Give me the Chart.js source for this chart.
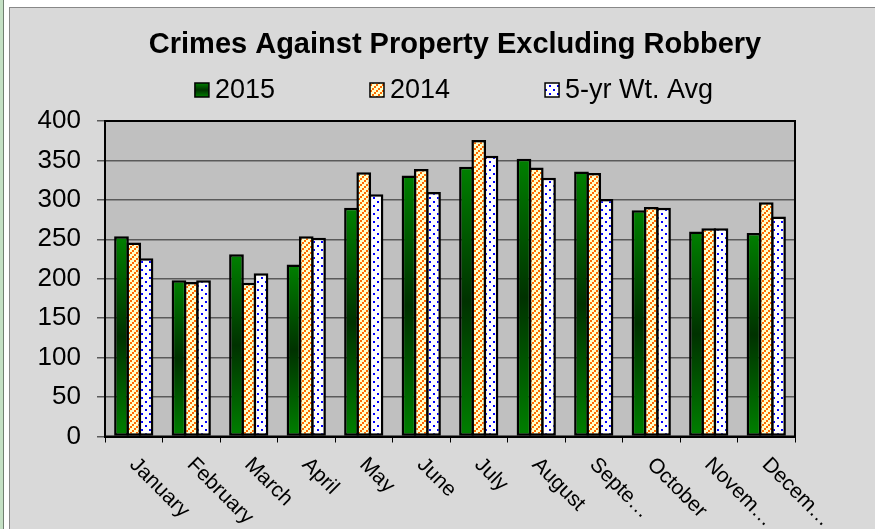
<!DOCTYPE html>
<html>
<head>
<meta charset="utf-8">
<script src="https://cdn.jsdelivr.net/npm/chart.js@4"></script>
<style>
  html, body { margin: 0; padding: 0; background: #fff; }
  #page { position: relative; width: 875px; height: 529px; overflow: hidden; background: #fff; }
  #strip { position: absolute; left: 0; top: 0; width: 3px; height: 529px; background: #c4e0c4; border-right: 1px solid #708070; }
  #panel { position: absolute; left: 9px; top: 7px; right: 0; bottom: 0; background: #d9d9d9; border-left: 1px solid #888; border-top: 1px solid #888; }
  #wrap { position: absolute; left: 0; top: 0; width: 875px; height: 529px; }
</style>
</head>
<body>
<div id="page">
  <div id="strip"></div>
  <div id="panel"></div>
  <div id="wrap"><canvas id="crimeChart"></canvas></div>
</div>
<script>
// chart data
const chartTitle = 'Crimes Against Property Excluding Robbery';
const months = ['January', 'February', 'March', 'April', 'May', 'June', 'July', 'August', 'Septe…', 'October', 'Novem…', 'Decem…'];
const seriesNames = ['2015', '2014', '5-yr Wt. Avg'];
const values2015 = [254, 198, 231, 218, 290, 331, 342, 352, 336, 287, 260, 258];
const values2014 = [246, 196, 195, 254, 335, 339, 376, 341, 334, 291, 264, 297];
const valuesAvg  = [226, 198, 207, 252, 307, 310, 356, 328, 301, 290, 264, 279];
const yMin = 0, yMax = 400, yStep = 50;

Chart.defaults.font.family = '"Liberation Sans", Arial, sans-serif';
Chart.defaults.color = '#000';

// fill patterns for the 2014 and average bars
function makePattern(size, bg, draw) {
    const c = document.createElement('canvas');
    c.width = c.height = size;
    const g = c.getContext('2d');
    g.fillStyle = bg;
    g.fillRect(0, 0, size, size);
    draw(g);
    return g.createPattern(c, 'repeat');
}

const orangePattern = makePattern(6, '#ffffc8', g => {
    g.fillStyle = '#ff6a00';
    g.fillRect(0, 4, 2, 2);
    g.fillRect(2, 2, 2, 2);
    g.fillRect(4, 0, 2, 2);
});

const bluePattern = makePattern(8, '#ffffff', g => {
    g.fillStyle = '#0000ff';
    g.fillRect(1, 1, 2, 2);
    g.fillRect(5, 5, 2, 2);
});

// green bars: bright at both ends, dark in the middle
function greenFill(c) {
    const chart = c.chart;
    if (!chart.chartArea || c.type !== 'data') return '#006000';
    const y = chart.scales.y;
    const top = y.getPixelForValue(c.raw);
    const bottom = y.getPixelForValue(0);
    const grad = chart.ctx.createLinearGradient(0, top, 0, bottom);
    grad.addColorStop(0, '#008000');
    grad.addColorStop(0.5, '#003200');
    grad.addColorStop(1, '#008000');
    return grad;
}

// plot background, frame, title, legend and slanted month labels
const excelLook = {
    id: 'excelLook',
    beforeDraw(chart) {
        const { ctx, chartArea: a } = chart;
        ctx.save();
        ctx.fillStyle = '#c0c0c0';
        ctx.fillRect(a.left, a.top, a.right - a.left, a.bottom - a.top);
        ctx.restore();
    },
    afterDatasetsDraw(chart) {
        const { ctx, chartArea: a } = chart;
        ctx.save();
        ctx.strokeStyle = '#000';
        ctx.lineWidth = 2;
        ctx.strokeRect(a.left, a.top, a.right - a.left, a.bottom - a.top);
        ctx.restore();
    },
    afterDraw(chart) {
        const { ctx, chartArea: a } = chart;
        const font = Chart.defaults.font.family;
        ctx.save();

        // title
        ctx.fillStyle = '#000';
        ctx.font = 'bold 29px ' + font;
        ctx.textAlign = 'center';
        ctx.textBaseline = 'alphabetic';
        ctx.fillText(chartTitle, 455, 52.5);

        // legend
        ctx.font = '27px ' + font;
        ctx.textAlign = 'left';
        const box = 14, gapText = 20, gapItem = 81;
        const widths = seriesNames.map(n => ctx.measureText(n).width);
        const total = widths.reduce((s, w) => s + box + gapText + w, 0) + gapItem * (seriesNames.length - 1);
        let x = 461 - total / 2;
        const fills = [null, orangePattern, bluePattern];
        seriesNames.forEach((name, i) => {
            if (i === 0) {
                const g = ctx.createLinearGradient(0, 83, 0, 97);
                g.addColorStop(0, '#008000');
                g.addColorStop(0.5, '#003200');
                g.addColorStop(1, '#008000');
                ctx.fillStyle = g;
            } else {
                ctx.fillStyle = fills[i];
            }
            ctx.fillRect(x, 83, box, box);
            ctx.strokeStyle = '#000';
            ctx.lineWidth = 1.5;
            ctx.strokeRect(x, 83, box, box);
            ctx.fillStyle = '#000';
            ctx.fillText(name, x + gapText, 98);
            x += box + gapText + widths[i] + gapItem;
        });

        // month labels, turned 45 degrees
        const xs = chart.scales.x;
        ctx.font = '21px ' + font;
        ctx.textAlign = 'left';
        ctx.textBaseline = 'alphabetic';
        months.forEach((m, i) => {
            const cx = xs.getPixelForValue(i);
            ctx.save();
            ctx.translate(cx - 5, a.bottom + 29);
            ctx.rotate(Math.PI / 4);
            ctx.fillText(m, 0, 0);
            ctx.restore();
        });
        ctx.restore();
    }
};

const barCommon = {
    borderColor: '#000',
    borderWidth: 2.5,
    borderSkipped: false,
    barPercentage: 1.2,
    categoryPercentage: 0.64
};

new Chart(document.getElementById('crimeChart').getContext('2d'), {
    type: 'bar',
    data: {
        labels: months,
        datasets: [
            { ...barCommon, label: seriesNames[0], data: values2015, backgroundColor: greenFill },
            { ...barCommon, label: seriesNames[1], data: values2014, backgroundColor: orangePattern },
            { ...barCommon, label: seriesNames[2], data: valuesAvg, backgroundColor: bluePattern }
        ]
    },
    options: {
        responsive: true,
        maintainAspectRatio: false,
        animation: false,
        layout: { padding: { left: 0, top: 121, right: 80, bottom: 0 } },
        plugins: {
            legend: { display: false },
            title: { display: false },
            tooltip: { enabled: false }
        },
        scales: {
            x: {
                grid: { display: true, drawOnChartArea: false, offset: true, tickLength: 6, color: '#000', lineWidth: 1 },
                border: { color: '#000', width: 2 },
                ticks: { display: false },
                afterFit: s => { s.height = 92.5; }
            },
            y: {
                min: yMin,
                max: yMax,
                ticks: { stepSize: yStep, padding: 16, color: '#000', font: { size: 26 } },
                grid: { color: '#5a5a5a', lineWidth: 1.5, tickLength: 8 },
                border: { color: '#000', width: 2 },
                afterFit: s => { s.width = 105; }
            }
        }
    },
    plugins: [excelLook]
});
</script>
</body>
</html>
